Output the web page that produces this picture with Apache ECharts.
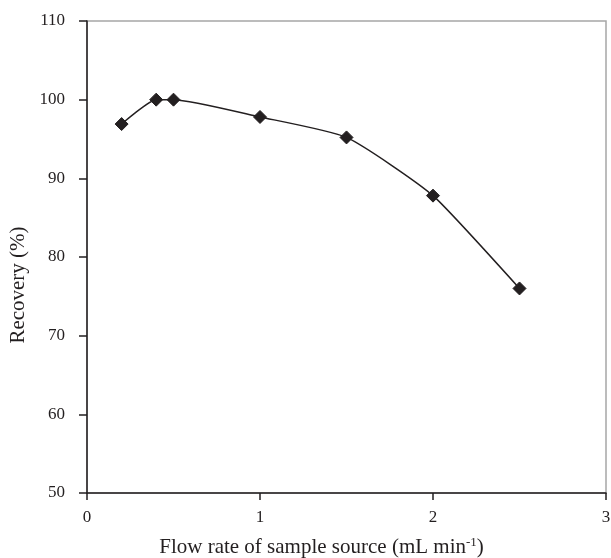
<!DOCTYPE html>
<html>
<head>
<meta charset="utf-8">
<script src="https://cdn.jsdelivr.net/npm/echarts@6/dist/echarts.min.js"></script>
<style>
  html, body { margin: 0; padding: 0; background: #fff; }
  #chart { width: 611px; height: 558px; }
</style>
</head>
<body>
<div id="chart"></div>
<script>
// Flow rate (mL/min) against recovery (%)
const flowRates = [0.2, 0.4, 0.5, 1.0, 1.5, 2.0, 2.5];
const recovery = [96.9, 100.0, 100.0, 97.8, 95.2, 87.8, 76.0];

const xTitle = 'Flow rate of sample source (mL min{sup|-1})';
const yTitle = 'Recovery (%)';

const ink = '#231f20';
const font = 'Liberation Serif';

const chart = echarts.init(document.getElementById('chart'), null, { renderer: 'canvas' });

chart.setOption({
  backgroundColor: '#ffffff',
  animation: false,
  grid: {
    left: 87, right: 5, top: 21, bottom: 65,
    outerBoundsMode: 'none',
    containLabel: false,
    show: true, borderColor: '#a6a6a6', borderWidth: 1.5,
    backgroundColor: 'transparent'
  },
  xAxis: {
    type: 'value', min: 0, max: 3, interval: 1,
    name: xTitle, nameLocation: 'middle', nameGap: 43,
    nameTextStyle: {
      fontFamily: font, fontSize: 21, color: ink,
      padding: [0, 50, 0, 0],
      rich: { sup: { fontFamily: font, fontSize: 13, color: ink, verticalAlign: 'top', padding: [0, 0, 9, 0] } }
    },
    axisLine: { show: true, lineStyle: { color: ink, width: 1.5 } },
    axisTick: { show: true, inside: false, length: 7, lineStyle: { color: ink, width: 1.5 } },
    axisLabel: { margin: 16, fontFamily: font, fontSize: 17, color: ink },
    splitLine: { show: false }
  },
  yAxis: {
    type: 'value', min: 50, max: 110, interval: 10,
    name: yTitle, nameLocation: 'middle', nameGap: 50, nameRotate: 90,
    nameTextStyle: { fontFamily: font, fontSize: 21, color: ink, padding: [0, 56, 0, 0] },
    axisLine: { show: true, lineStyle: { color: ink, width: 1.5 } },
    axisTick: { show: true, inside: false, length: 8, lineStyle: { color: ink, width: 1.5 } },
    axisLabel: { margin: 22, fontFamily: font, fontSize: 17, color: ink },
    splitLine: { show: false }
  },
  series: [{
    type: 'line',
    data: flowRates.map((x, i) => [x, recovery[i]]),
    smooth: 0.18,
    symbol: 'diamond',
    symbolSize: 13,
    lineStyle: { color: ink, width: 1.5 },
    itemStyle: { color: ink, borderColor: ink }
  }]
});
</script>
</body>
</html>
